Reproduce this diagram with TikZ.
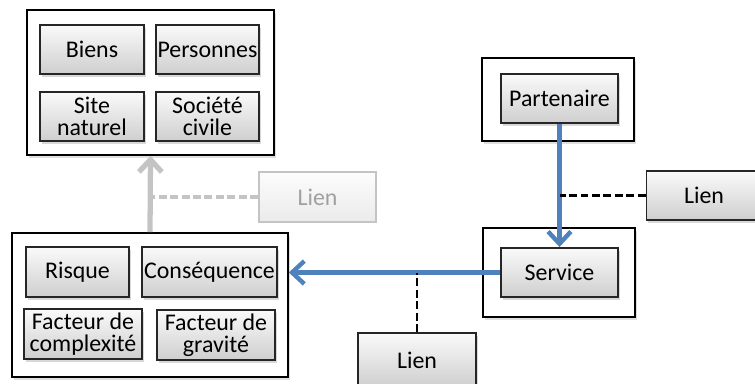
\documentclass[tikz,border=0pt]{standalone}
\usepackage{fontspec}
\setmainfont{Carlito}
\usetikzlibrary{arrows.meta,shadows}
\definecolor{lkBlue}{HTML}{4F81BD}
\definecolor{lkFade}{HTML}{C4C4C4}
\definecolor{lkFadeText}{HTML}{A0A0A0}
\tikzset{
  groupbox/.style={draw=black,line width=0.9pt,fill=white,inner sep=0pt,
    drop shadow={shadow xshift=1pt,shadow yshift=-1.5pt,opacity=0.25}},
  itembox/.style={draw=black!85,line width=1.1pt,top color=gray!4,bottom color=gray!38,
    inner sep=1pt,align=center,font=\fontsize{13.6}{12.4}\selectfont,
    drop shadow={shadow xshift=1pt,shadow yshift=-1.5pt,opacity=0.3}},
  fadebox/.style={draw=lkFade,line width=1.1pt,top color=gray!2,bottom color=gray!16,
    inner sep=1pt,font=\fontsize{13.6}{12.4}\selectfont,text=lkFadeText},
  flow/.style={lkBlue,line width=2.5pt,-{Straight Barb[length=7pt,width=13pt,line width=2.5pt]}},
  link/.style={black,line width=1.7pt,dash pattern=on 4.5pt off 2pt}
}
\begin{document}
\begin{tikzpicture}[x=0.02cm,y=-0.02cm]
\useasboundingbox (0,0) rectangle (755,383);
\node[groupbox,minimum width=4.94cm,minimum height=2.9cm] (cibles) at (150.5,82.5){};
\node[itembox,minimum width=2.08cm,minimum height=0.98cm] (biens) at (92,49.5){Biens};
\node[itembox,minimum width=2.06cm,minimum height=0.98cm] (personnes) at (207.5,49.5){Personnes};
\node[itembox,minimum width=2.08cm,minimum height=0.98cm] (site) at (92,116.5){Site\\naturel};
\node[itembox,minimum width=2.06cm,minimum height=0.98cm] (societe) at (207.5,116.5){Soci\'et\'e\\civile};
\node[groupbox,minimum width=5.52cm,minimum height=2.88cm] (risques) at (150,305){};
\node[itembox,minimum width=2.06cm,minimum height=1.0cm] (risque) at (77.5,272){Risque};
\node[itembox,minimum width=2.7cm,minimum height=1.0cm] (consequence) at (209.5,272){Cons\'equence};
\node[itembox,minimum width=2.36cm,minimum height=1.0cm] (complexite) at (83,334){Facteur de\\complexit\'e};
\node[itembox,minimum width=2.36cm,minimum height=1.0cm] (gravite) at (216,335){Facteur de\\gravit\'e};
\node[fadebox,minimum width=2.34cm,minimum height=1.0cm] (lienA) at (317.5,197){Lien};
\node[groupbox,minimum width=3.04cm,minimum height=1.66cm] (partGroup) at (558,99.5){};
\node[itembox,minimum width=2.34cm,minimum height=0.98cm] (partenaire) at (559.5,98.5){Partenaire};
\node[groupbox,minimum width=3.04cm,minimum height=1.78cm] (servGroup) at (559,272.5){};
\node[itembox,minimum width=2.34cm,minimum height=0.98cm] (service) at (559.5,272.5){Service};
\node[itembox,minimum width=2.3cm,minimum height=0.98cm] (lienB) at (704,195.5){Lien};
\node[itembox,minimum width=2.36cm,minimum height=1.08cm] (lienC) at (417,360){Lien};
\draw[lkFade,line width=3pt,-{Straight Barb[length=7pt,width=13pt,line width=3pt]}] (risques.north) -- (cibles.south);
\draw[lkFade,line width=1.8pt,dash pattern=on 4.5pt off 2pt] (lienA.west) -- (cibles.south |- lienA.west);
\draw[flow] (partenaire.south) -- (service.north);
\draw[link] (lienB.west) -- (partenaire.south |- lienB.west);
\draw[flow] (service.west) -- (service.west -| risques.east);
\draw[link] (lienC.north) -- (lienC.north |- service.west);
\end{tikzpicture}
\end{document}
